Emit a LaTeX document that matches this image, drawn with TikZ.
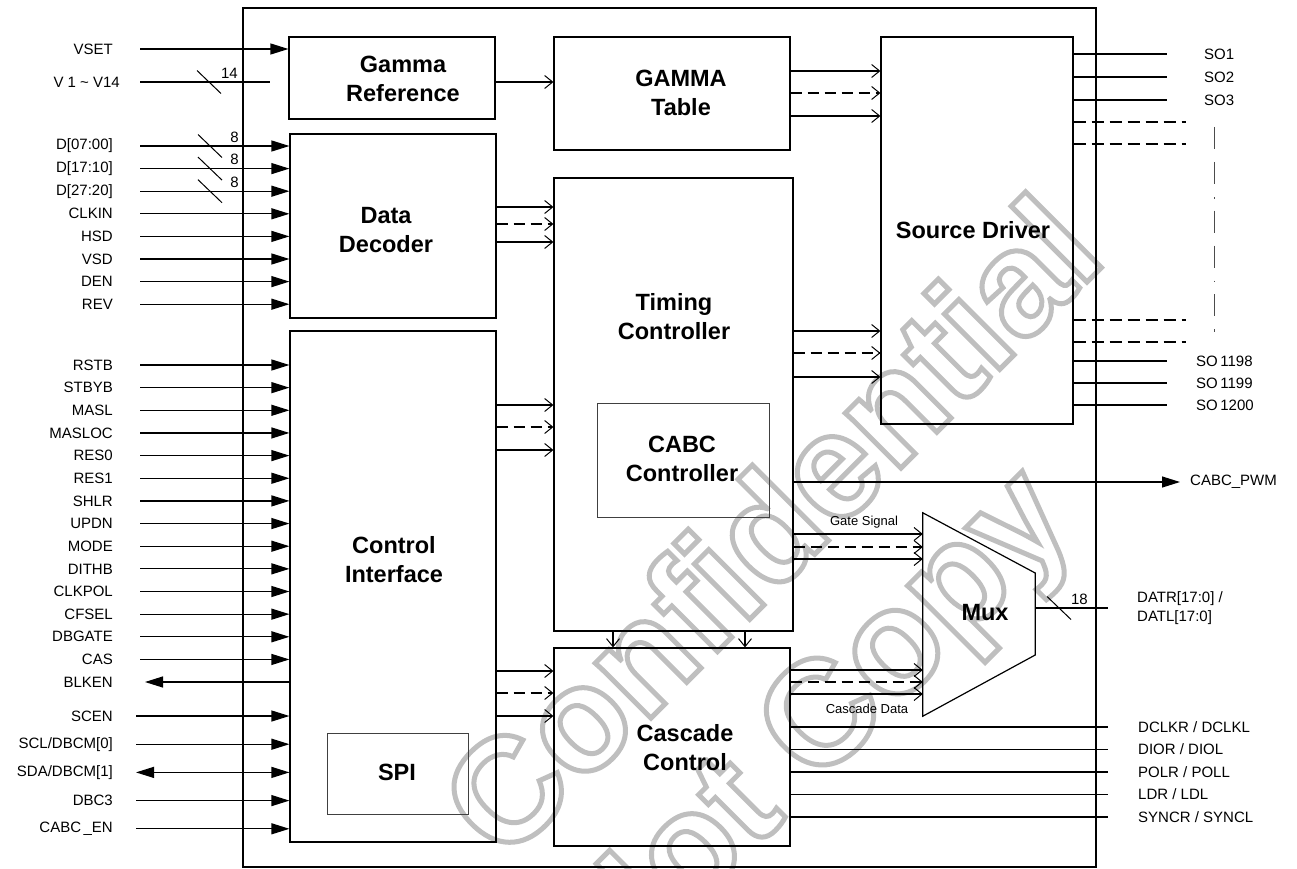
\documentclass[tikz,border=0pt]{standalone}
\usepackage{fontspec}
\setmainfont{Liberation Sans}
\usetikzlibrary{
  arrows.meta,
  fit,
  positioning
}
\colorlet{wmgray}{black!25}
\colorlet{subline}{black!75}
\newcommand\outlinetext[1]{\special{pdf:literal direct 1 Tr 5 w}#1\special{pdf:literal direct 0 Tr}}
\tikzset{
  block/.style={draw,line width=1.2pt,inner sep=0pt},
  subblock/.style={draw=subline,line width=0.9pt,inner sep=0pt},
  title/.style={font=\fontsize{23.5}{29}\selectfont\bfseries,align=center,inner sep=0pt},
  padlabel/.style={font=\fontsize{15}{19}\selectfont,inner sep=0pt},
  buslabel/.style={font=\fontsize{13}{15}\selectfont,inner sep=0pt},
  wire/.style={line width=1.2pt},
  padin/.style={wire,-{Triangle[length=18pt,width=11pt]}},
  padio/.style={wire,{Triangle[length=18pt,width=11pt]}-{Triangle[length=18pt,width=11pt]}},
  bus/.style={wire,-{Straight Barb[length=8pt,width=13pt,line width=1pt]}},
  busdash/.style={bus,line width=1.6pt,dash pattern=on 11pt off 6pt},
  spare/.style={line width=1.4pt,dash pattern=on 12pt off 6pt},
  ellipsis/.style={line width=1pt,draw=black!70,dash pattern=on 22pt off 13pt on 22pt off 13pt on 1.5pt off 12pt},
  pics/buswidth/.style={code={
    \draw[line width=1pt] (-12,-11.5) -- (12,11.5);
    \node[padlabel,anchor=east] (-w) at (29,-9) {#1};
  }},
  watermark/.style={text=wmgray,font=\bfseries\fontsize{148}{148}\selectfont,inner sep=0pt,anchor=base west,rotate=45},
}

\begin{document}
\begin{tikzpicture}[x=1pt,y=-1pt]
\useasboundingbox (0,0) rectangle (1297,869);
% watermark
\node[watermark] (wm1) at (504,865) {\outlinetext{Confidential}};
\node[watermark] (wm2) at (613,991) {\outlinetext{Not Copy}};

% blocks
\node[block,fit={(243,8) (1096,867)}] (chip) {};
\node[block,fit={(289,37) (495,119)}] (gref) {};
\node[block,fit={(554,37) (790,150)}] (gtab) {};
\node[block,fit={(290,134) (496,318)}] (ddec) {};
\node[block,fit={(290,331) (496,842)}] (ctl) {};
\node[subblock,fit={(327,733) (468,814)}] (spi) {};
\node[block,fit={(554,178) (793,631)}] (tcon) {};
\node[subblock,fit={(597,403) (769,517)}] (cabc) {};
\node[block,fit={(554,648) (790,846)}] (casc) {};
\node[block,fit={(881,37) (1073,424)}] (src) {};
\node[inner sep=0pt,fit={(923,513) (1035,716)}] (mux) {};
\draw[wire] (mux.north west) -- (mux.east |- 0,573) -- (mux.east |- 0,655) -- (mux.south west) -- cycle;

\node[title] (gref-t) at (403,79) {Gamma\\Reference};
\node[title] (gtab-t) at (681,93) {GAMMA\\Table};
\node[title] (ddec-t) at (386,230) {Data\\Decoder};
\node[title] (ctl-t) at (394,560) {Control\\Interface};
\node[title] (spi-t) at (397,772) {SPI};
\node[title] (tcon-t) at (674,317) {Timing\\Controller};
\node[title] (cabc-t) at (682,459) {CABC\\Controller};
\node[title] (casc-t) at (685,748) {Cascade\\Control};
\node[title] (src-t) at (973,230) {Source Driver};
\node[title] (mux-t) at (985,613) {Mux};

% gamma inputs
\node[padlabel,anchor=east] (vset) at (113,49) {VSET};
\draw[padin] ([xshift=27pt]vset.east) -- (gref.west |- vset.east);
\node[padlabel,anchor=east] (vref) at (120,82) {V 1 \textasciitilde{} V14};
\draw[wire,shorten >=18pt] ([xshift=20pt]vref.east) -- (gref.west |- vref.east);
\pic (vbus) at (209,82) {buswidth=14};

% data decoder inputs
\foreach \sig [count=\i from 0] in {D[07:00],D[17:10],D[27:20],CLKIN,HSD,VSD,DEN,REV} {
  \node[padlabel,anchor=east] (dd\i) at (113,146+22.6*\i) {\sig};
  \draw[padin] ([xshift=27pt]dd\i.east) -- (ddec.west |- dd\i.east);
}
\foreach \i in {0,1,2}
  \pic (dw\i) at (210,146+22.6*\i) {buswidth=8};

% control interface pins
\foreach \sig [count=\i from 0] in {RSTB,STBYB,MASL,MASLOC,RES0,RES1,SHLR,UPDN,MODE,DITHB,CLKPOL,CFSEL,DBGATE,CAS} {
  \node[padlabel,anchor=east] (ci\i) at (113,365+22.65*\i) {\sig};
  \draw[padin] ([xshift=27pt]ci\i.east) -- (ctl.west |- ci\i.east);
}
\node[padlabel,anchor=east] (blken) at (113,682) {BLKEN};
\draw[padin] (ctl.west |- blken.east) -- ([xshift=32pt]blken.east);
\foreach \sig [count=\i from 0] in {SCEN,{SCL/DBCM[0]},{SDA/DBCM[1]},DBC3,{CABC\,\_EN}} {
  \node[padlabel,anchor=east] (sp\i) at (113,716+28.2*\i) {\sig};
  \ifnum\i=2 \def\tip{padio}\else\def\tip{padin}\fi
  \draw[\tip] ([xshift=23pt]sp\i.east) -- (ctl.west |- sp\i.east);
}

% internal buses
\draw[bus] (gref.east |- 0,82) -- (gtab.west |- 0,82);
\foreach \y/\s in {71/bus,93/busdash,116/bus}
  \draw[\s] (gtab.east |- 0,\y) -- (src.west |- 0,\y);
\foreach \y/\s in {207/bus,224/busdash,242/bus}
  \draw[\s] (ddec.east |- 0,\y) -- (tcon.west |- 0,\y);
\foreach \y/\s in {405/bus,427/busdash,450/bus}
  \draw[\s] (ctl.east |- 0,\y) -- (tcon.west |- 0,\y);
\foreach \y/\s in {331/bus,353/busdash,377/bus}
  \draw[\s] (tcon.east |- 0,\y) -- (src.west |- 0,\y);
\foreach \y/\s in {671/bus,693/busdash,716/bus}
  \draw[\s] (ctl.east |- 0,\y) -- (casc.west |- 0,\y);
\foreach \y/\s in {534/bus,547/busdash,559/bus}
  \draw[\s] (tcon.east |- 0,\y) -- (mux.west |- 0,\y);
\foreach \y/\s in {670/bus,682/busdash,694/bus}
  \draw[\s] (casc.east |- 0,\y) -- (mux.west |- 0,\y);
\foreach \x in {613,745}
  \draw[bus] (tcon.south -| \x,0) -- (casc.north -| \x,0);
\node[buslabel] (gate) at (864,522) {Gate Signal};
\node[buslabel] (cdata) at (867,709) {Cascade Data};

% source outputs
\foreach \y [count=\i] in {54,77,100} {
  \node[padlabel,anchor=west] (so\i) at (1204,\y) {SO\i};
  \draw[wire] (src.east |- so\i.west) -- ([xshift=-37pt]so\i.west);
}
\foreach \y in {122,144,320,342}
  \draw[spare] (src.east |- 0,\y) -- (1186,\y);
\draw[ellipsis] (1214,127) -- (1214,332);
\foreach \n/\y in {1198/361,1199/383,1200/405} {
  \node[padlabel,anchor=west] (so\n) at (1196,\y) {SO\,\n};
  \draw[wire] (src.east |- so\n.west) -- ([xshift=-29pt]so\n.west);
}

% other outputs
\node[padlabel,anchor=west] (pwm) at (1190,482) {CABC\_PWM};
\draw[padin] (tcon.east |- pwm.west) -- ([xshift=-10pt]pwm.west);
\node[padlabel,anchor=west,align=left] (datr) at (1137,608) {DATR[17:0] /\\DATL[17:0]};
\draw[wire] (mux.east |- datr.west) -- ([xshift=-29pt]datr.west);
\pic (mbus) at (1059,608) {buswidth=18};
\foreach \sig [count=\i from 0] in {DCLKR / DCLKL,DIOR / DIOL,POLR / POLL,LDR / LDL,SYNCR / SYNCL} {
  \node[padlabel,anchor=west] (co\i) at (1138,727+22.5*\i) {\sig};
  \draw[wire] (casc.east |- co\i.west) -- ([xshift=-30pt]co\i.west);
}
\end{tikzpicture}
\end{document}
